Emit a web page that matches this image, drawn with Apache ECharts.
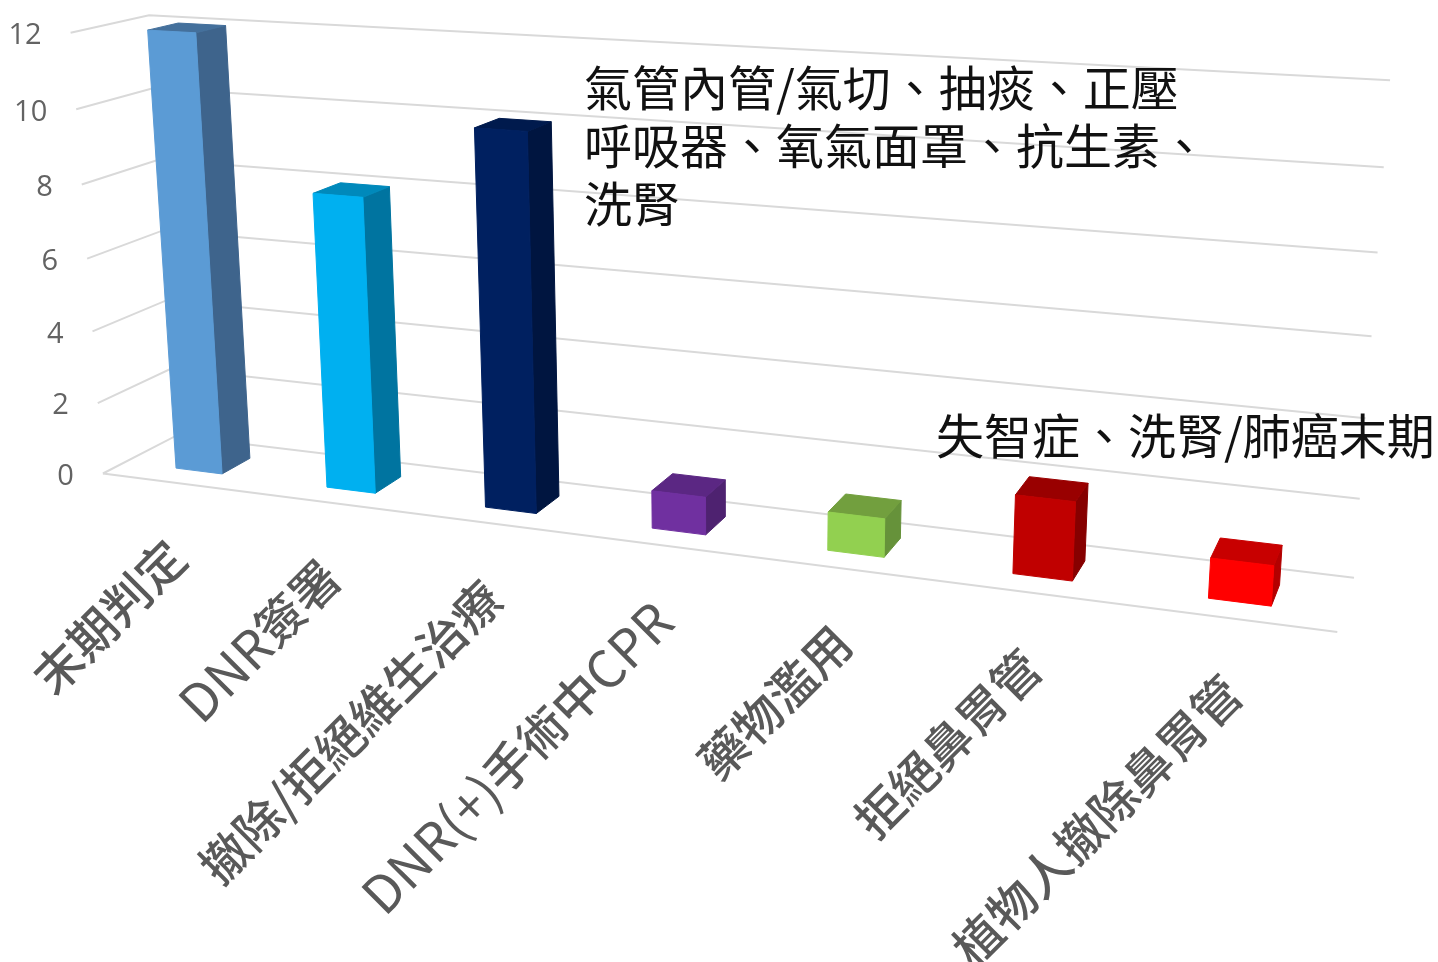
<!DOCTYPE html>
<html lang="zh-Hant">
<head>
<meta charset="utf-8">
<title>病例統計</title>
<style>html,body{margin:0;padding:0;background:#fff}#chart{width:1438px;height:962px}</style>
<script src="https://cdn.jsdelivr.net/npm/echarts@6/dist/echarts.min.js"></script>
</head>
<body>
<div id="chart"></div>
<script>
// Chart content
const categories = ['末期判定', 'DNR簽署', '撤除/拒絕維生治療', 'DNR(+)手術中CPR', '藥物濫用', '拒絕鼻胃管', '植物人撤除鼻胃管'];
const caseCounts = [12, 8, 10, 1, 1, 2, 1];
const yTicks = [0, 2, 4, 6, 8, 10, 12];
const frontColors = ['#5b9bd5', '#00b0f0', '#002060', '#7030a0', '#92d050', '#c00000', '#ff0000'];
const sideColors = ['#3e648c', '#0074a0', '#001540', '#4e2270', '#66923a', '#860000', '#b30000'];
const topColors = ['#44709c', '#0089bb', '#001a4d', '#5b2783', '#729f3e', '#990000', '#c80000'];
const noteUpper = '氣管內管/氣切、抽痰、正壓\n呼吸器、氧氣面罩、抗生素、\n洗腎';
const noteLower = '失智症、洗腎/肺癌末期';

// Camera calibration: [u, v, z, screenX, screenY], where u runs along the
// categories, v up the value axis and z from the front of the floor to the wall.
const BAR_SHARE = 0.31, Z_FRONT = 0.3, Z_BACK = 0.7;
const calibration = [
  [0, 0, 0, 103, 473], [1, 0, 0, 1338, 633], [0, 1, 0, 70, 33],
  [0, 0, 1, 176, 437], [1, 0, 1, 1355, 577], [0, 1, 1, 150, 15], [1, 1, 1, 1390, 81],
  [(1 / 3) / 7, 0, Z_FRONT, 176, 468],
  [(20 / 3) / 7, 0, Z_FRONT, 1273, 606],
  [(2 / 3) / 7, 1, Z_BACK, 227, 25],
  [(2 / 3) / 7, 0, Z_BACK, 250, 458],
  [(20 / 3) / 7, 0, Z_BACK, 1281, 585]
];

// Least-squares fit of a projective camera with 11 unknowns.
function fitCamera(points) {
  const n = 11;
  const ata = Array.from({ length: n }, () => new Array(n + 1).fill(0));
  const addRow = (row, rhs) => {
    for (let i = 0; i < n; i++) {
      for (let j = 0; j < n; j++) ata[i][j] += row[i] * row[j];
      ata[i][n] += row[i] * rhs;
    }
  };
  points.forEach(([u, v, z, sx, sy]) => {
    addRow([1, u, v, z, 0, 0, 0, 0, -sx * u, -sx * v, -sx * z], sx);
    addRow([0, 0, 0, 0, 1, u, v, z, -sy * u, -sy * v, -sy * z], sy);
  });
  for (let c = 0; c < n; c++) {
    let pivot = c;
    for (let r = c + 1; r < n; r++) if (Math.abs(ata[r][c]) > Math.abs(ata[pivot][c])) pivot = r;
    [ata[c], ata[pivot]] = [ata[pivot], ata[c]];
    for (let r = 0; r < n; r++) {
      if (r === c) continue;
      const f = ata[r][c] / ata[c][c];
      for (let k = c; k <= n; k++) ata[r][k] -= f * ata[c][k];
    }
  }
  return ata.map((row, i) => row[n] / row[i]);
}
const cam = fitCamera(calibration);
function project(u, v, z) {
  const w = 1 + cam[8] * u + cam[9] * v + cam[10] * z;
  return [
    (cam[0] + cam[1] * u + cam[2] * v + cam[3] * z) / w,
    (cam[4] + cam[5] * u + cam[6] * v + cam[7] * z) / w
  ];
}

// Normalised position of a data point inside the hidden cartesian grid.
function toUnit(api, params, cat, value) {
  const p = api.coord([cat, value]);
  const g = params.coordSys;
  return [(p[0] - g.x) / g.width, (g.y + g.height - p[1]) / g.height];
}

const LINE = { stroke: '#d9d9d9', lineWidth: 2, fill: null };
const FONT_CJK = '"Noto Sans CJK TC", "Open Sans", sans-serif';
const FONT_TICK = '"Open Sans", "Noto Sans", sans-serif';

function renderGridLine(params, api) {
  const tick = api.value(0);
  const v = toUnit(api, params, 0, tick)[1];
  const children = [{
    type: 'polyline',
    shape: { points: [project(0, v, 0), project(0, v, 1), project(1, v, 1)] },
    style: LINE
  }];
  const start = project(0, v, 0);
  children.push({
    type: 'text',
    x: start[0] - 29, y: start[1] + 3,
    style: { text: String(tick), align: 'right', verticalAlign: 'middle', fontFamily: FONT_TICK, fontSize: 29, fill: '#636363' }
  });
  if (tick === 0) {
    children.push({
      type: 'line',
      shape: { x1: start[0], y1: start[1], x2: project(1, 0, 0)[0], y2: project(1, 0, 0)[1] },
      style: LINE
    });
  }
  return { type: 'group', children };
}

function renderBar(params, api) {
  const i = api.value(0);
  const band = toUnit(api, params, i, 0);
  const top = toUnit(api, params, i, api.value(1))[1];
  const halfWidth = (api.size([1, 0])[0] / params.coordSys.width) * BAR_SHARE / 2;
  const u0 = band[0] - halfWidth, u1 = band[0] + halfWidth;
  const z0 = Z_FRONT, z1 = Z_BACK;
  const face = (pts, color) => ({
    type: 'polygon', shape: { points: pts },
    style: { fill: color, stroke: color, lineWidth: 1 }
  });
  return {
    type: 'group',
    children: [
      face([project(u1, 0, z0), project(u1, 0, z1), project(u1, top, z1), project(u1, top, z0)], sideColors[i]),
      face([project(u0, top, z0), project(u1, top, z0), project(u1, top, z1), project(u0, top, z1)], topColors[i]),
      face([project(u0, 0, z0), project(u1, 0, z0), project(u1, top, z0), project(u0, top, z0)], frontColors[i])
    ]
  };
}

// Latin runs of a category name are set a little larger than the Chinese around them.
function richCategory(name) {
  return name.replace(/[A-Za-z()+]+/g, m => '\u0000' + m + '\u0000')
    .split('\u0000')
    .filter(Boolean)
    .map(run => (/^[A-Za-z()+]+$/.test(run) ? '{latin|' + run + '}' : '{cjk|' + run + '}'))
    .join('');
}

function renderCategoryLabel(params, api) {
  const i = api.value(0);
  const u = toUnit(api, params, i, 0)[0];
  const p = project(u, 0, 0);
  return {
    type: 'text',
    x: p[0], y: p[1] + 66,
    rotation: Math.PI / 4,
    style: {
      text: richCategory(categories[i]), align: 'right', verticalAlign: 'middle',
      rich: {
        cjk: { fontFamily: FONT_CJK, fontWeight: 500, fill: '#595959', fontSize: 48 },
        latin: { fontFamily: FONT_CJK, fontWeight: 400, fill: '#595959', fontSize: 52 }
      }
    }
  };
}

const chart = echarts.init(document.getElementById('chart'), null, { renderer: 'canvas' });
chart.setOption({
  backgroundColor: '#ffffff',
  animation: false,
  grid: { left: 100, right: 100, top: 100, bottom: 100 },
  xAxis: { type: 'category', data: categories, show: false },
  yAxis: { type: 'value', min: 0, max: 12, interval: 2, show: false },
  series: [
    { type: 'custom', silent: true, clip: false, renderItem: renderGridLine, data: yTicks.map(t => [t]), encode: { y: 0 }, z: 1 },
    { type: 'custom', silent: true, clip: false, renderItem: renderBar, data: caseCounts.map((c, i) => [i, c]), encode: { x: 0, y: 1 }, z: 2 },
    { type: 'custom', silent: true, clip: false, renderItem: renderCategoryLabel, data: categories.map((c, i) => [i]), encode: { x: 0 }, z: 3 }
  ],
  graphic: [
    { type: 'text', left: 584, top: 59, z: 10, style: { text: noteUpper, fontFamily: FONT_CJK, fontSize: 48, lineHeight: 58, fill: '#111' } },
    { type: 'text', left: 936, top: 407, z: 10, style: { text: noteLower, fontFamily: FONT_CJK, fontSize: 48, lineHeight: 58, fill: '#111' } }
  ]
});
</script>
</body>
</html>
